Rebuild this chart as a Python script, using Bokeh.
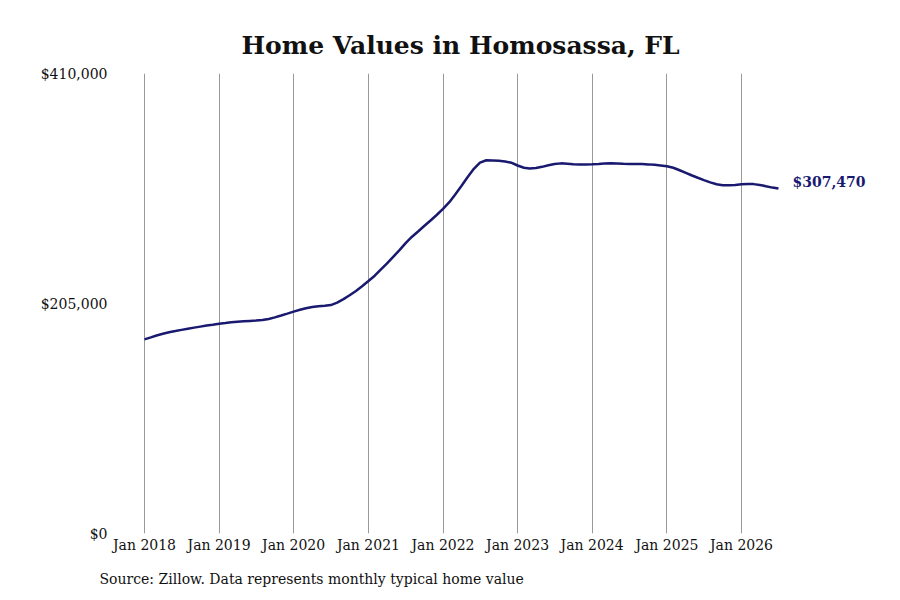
import datetime as dt
from bokeh.plotting import figure
from bokeh.models import FixedTicker, DatetimeTickFormatter, NumeralTickFormatter, Title, Range1d
from bokeh.core.properties import value
from bokeh.embed import file_html
from bokeh.resources import INLINE

# monthly typical home value, Jan 2018 .. Jul 2026
home_values = [
    173000, 174800, 176500, 178000, 179300, 180400, 181500, 182500, 183500, 184400, 185300, 186100,
    187000, 187600, 188200, 188700, 189100, 189500, 189800, 190300, 191200, 192600, 194300, 196000,
    197800, 199400, 200800, 201800, 202600, 203000, 203600, 205800, 208900, 212300, 216100, 220300,
    225000, 229800, 235000, 240600, 246400, 252300, 258600, 264300, 269200, 274100, 279000, 283900,
    289300, 295300, 302000, 309800, 317500, 325000, 330500, 332700, 332500, 332200, 331600, 330500,
    328000, 326000, 325300, 325700, 326800, 328200, 329300, 329900, 329600, 329200, 329000, 329000,
    329100, 329400, 329700, 329900, 329800, 329500, 329400, 329400, 329300, 329000, 328600, 328100,
    327300, 326000, 324000, 321600, 319300, 317100, 315000, 313000, 311300, 310400, 310300, 310700,
    311300, 311500, 311400, 310700, 309500, 308300, 307470,
]
dates = [dt.datetime(2018 + i // 12, i % 12 + 1, 1) for i in range(len(home_values))]
year_ticks = [dt.datetime(y, 1, 1) for y in range(2018, 2027)]
y_ticks = [0, 205000, 410000]
last_label = "$307,470"

FONT = "DejaVu Serif"
NAVY = "#191970"

def ms(d):
    return (d - dt.datetime(1970, 1, 1)).total_seconds() * 1000.0

year_ms = 365.25 * 24 * 3600 * 1000
px_ms = year_ms / 74.625
x0 = ms(dt.datetime(2018, 1, 1)) - px_ms
x1 = x0 + 729 * px_ms

p = figure(width=884, height=600, x_axis_type="datetime", output_backend="svg",
           toolbar_location=None, x_range=Range1d(x0, x1), y_range=Range1d(0, 410000),
           min_border_left=143, min_border_right=12, min_border_top=73, min_border_bottom=65)
p.outline_line_color = None
p.background_fill_color = "white"
p.border_fill_color = "white"

p.line(dates, home_values, line_color=NAVY, line_width=2.5)
p.text([dates[-1]], [home_values[-1]], text=[last_label], x_offset=14, y_offset=-7,
       text_baseline="middle", text_align="left", text_color=NAVY,
       text_font=value(FONT), text_font_style="bold", text_font_size="14px")

p.title.text = "Home Values in Homosassa, FL"
p.title.align = "left"
p.title.offset = 98
p.title.text_font = FONT
p.title.text_font_size = "25px"
p.title.text_font_style = "bold"
p.title.text_color = "#111111"
p.title.standoff = 27

p.add_layout(Title(text="Source: Zillow. Data represents monthly typical home value",
                   text_font=FONT, text_font_size="14px", text_font_style="normal",
                   align="left", offset=-44, text_color="#111111", standoff=27), "below")

p.xaxis.ticker = FixedTicker(ticks=[ms(d) for d in year_ticks])
p.xaxis.formatter = DatetimeTickFormatter(years="%b %Y", months="%b %Y", days="%b %Y")
p.xaxis.axis_line_color = None
p.xaxis.major_tick_line_color = None
p.xaxis.minor_tick_line_color = None
p.xaxis.major_tick_out = 0
p.xaxis.major_label_standoff = 3
p.xaxis.major_label_text_font = FONT
p.xaxis.major_label_text_font_size = "14px"
p.xaxis.major_label_text_color = "#111111"

p.yaxis.ticker = FixedTicker(ticks=y_ticks)
p.yaxis.formatter = NumeralTickFormatter(format="$0,0")
p.yaxis.axis_line_color = None
p.yaxis.major_tick_line_color = None
p.yaxis.minor_tick_line_color = None
p.yaxis.major_tick_out = 0
p.yaxis.major_label_standoff = 36
p.yaxis.major_label_text_font = FONT
p.yaxis.major_label_text_font_size = "14px"
p.yaxis.major_label_text_color = "#111111"

p.ygrid.grid_line_color = None
p.xgrid.grid_line_color = "#999999"
p.xgrid.grid_line_width = 1

open("out.html", "w").write(file_html(p, INLINE))
